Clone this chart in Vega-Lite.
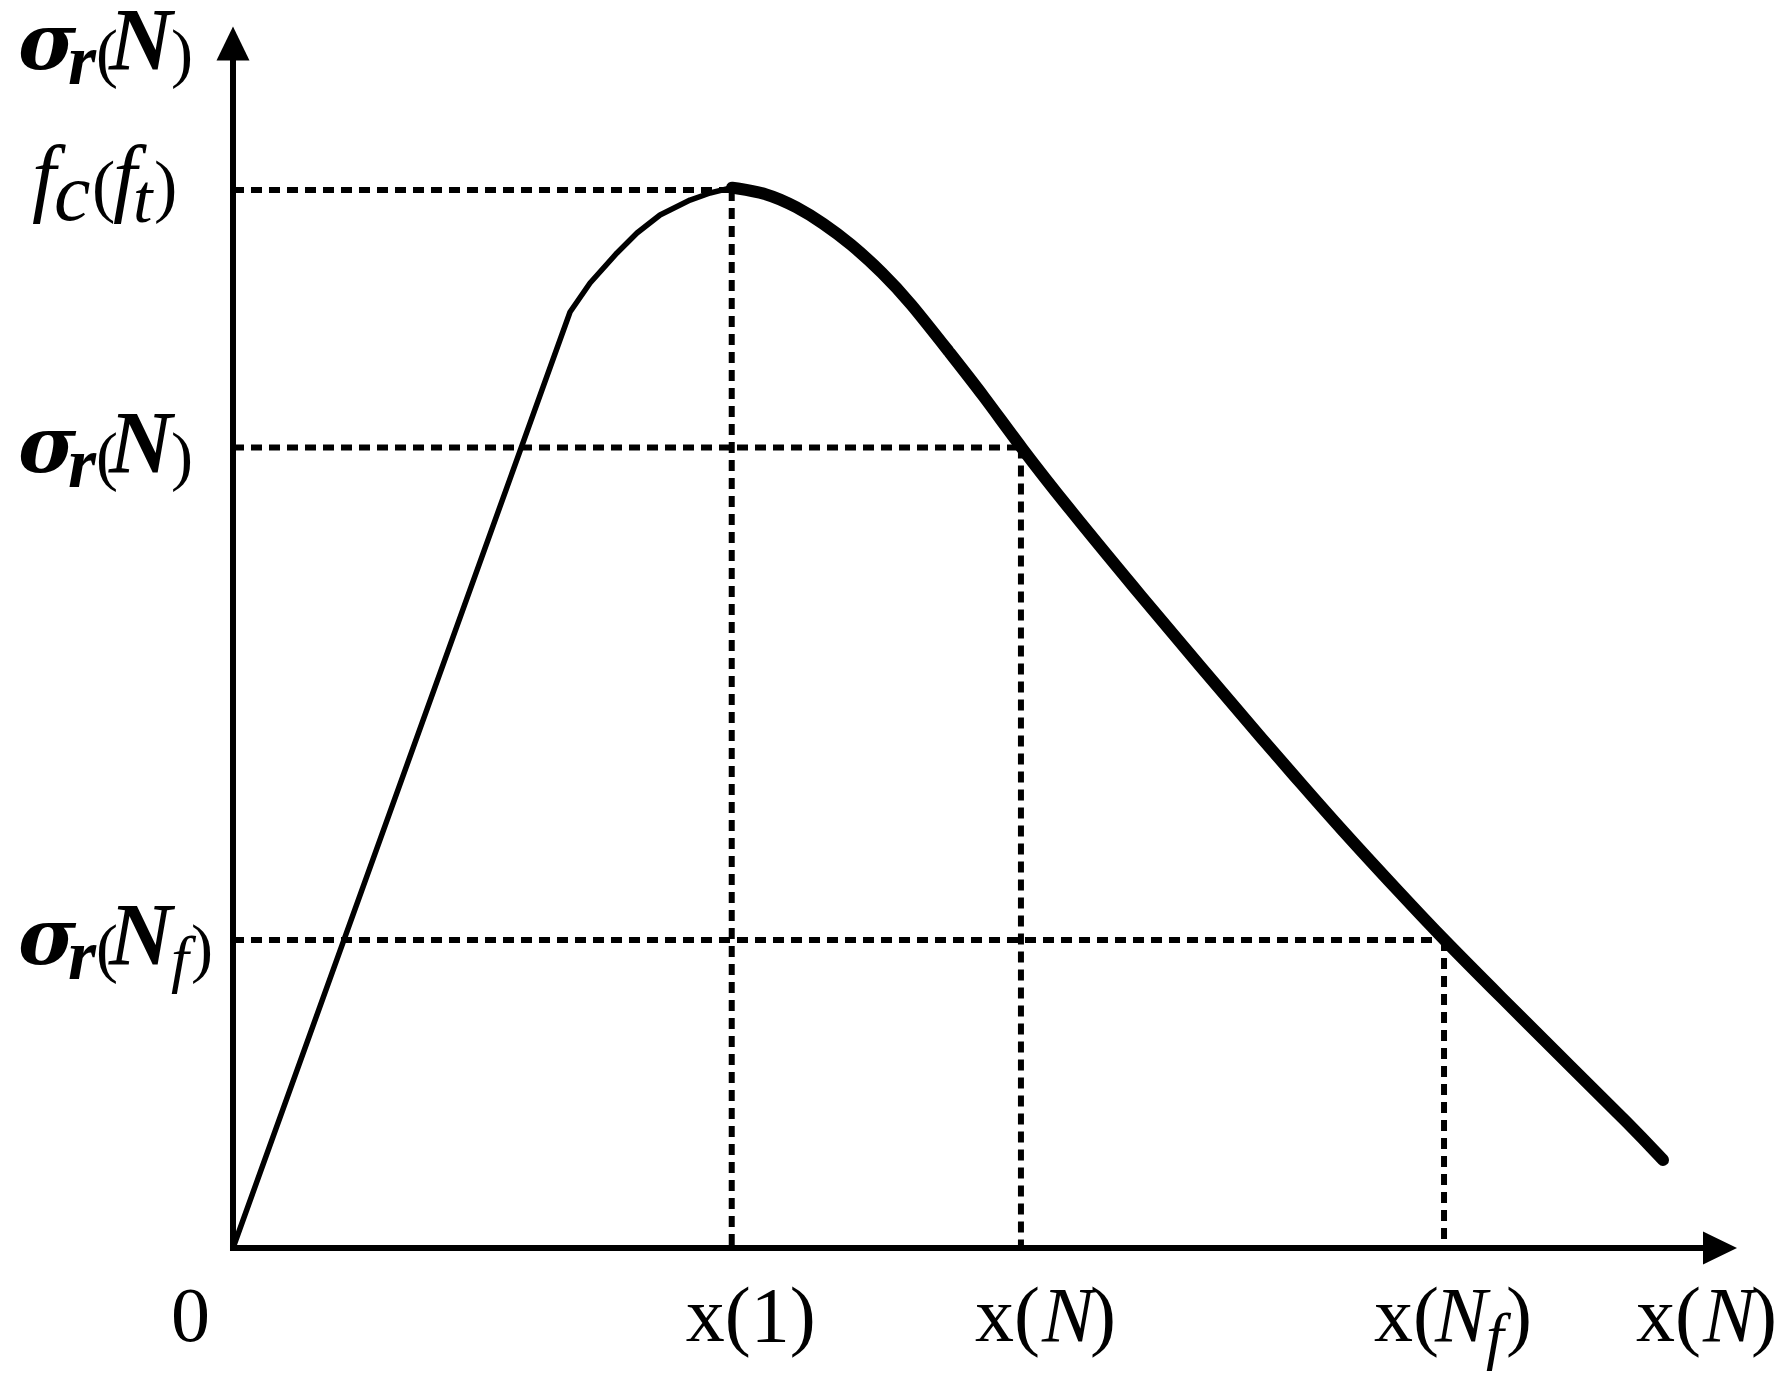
{
"$schema": "https://vega.github.io/schema/vega-lite/v6.json",
"width": 1782, "height": 1387, "padding": 0, "autosize": {"type": "none"},
"background": "white",
"config": {"view": {"stroke": null}, "text": {"font": "Liberation Serif", "color": "black"}},
"datasets": {
 "axes": [{"x": 0, "y": 0, "x2": 97.74, "y2": 0}, {"x": 0, "y": 0, "x2": 0, "y2": 97.7}],
 "arrow_x": [{"x": 98.87, "y": 0}],
 "arrow_y": [{"x": 0, "y": 99.05}],
 "guides": [
  {"x": 0, "x2": 33.16, "y": 87.0, "y2": 87.0},
  {"x": 33.16, "x2": 33.16, "y": 87.0, "y2": 0},
  {"x": 0, "x2": 52.39, "y": 65.83, "y2": 65.83},
  {"x": 52.39, "x2": 52.39, "y": 65.83, "y2": 0},
  {"x": 0, "x2": 80.52, "y": 25.33, "y2": 25.33},
  {"x": 80.52, "x2": 80.52, "y": 25.33, "y2": 0}
 ],
 "curve_thin": [
  {"x": 0, "y": 0}, {"x": 22.41, "y": 76.97}, {"x": 23.74, "y": 79.36}, {"x": 25.53, "y": 81.83},
  {"x": 26.86, "y": 83.47}, {"x": 28.39, "y": 84.95}, {"x": 30.39, "y": 86.18}, {"x": 31.72, "y": 86.76},
  {"x": 33.18, "y": 87.2}
 ],
 "curve_thick": [
  {"x": 33.18, "y": 87.2}, {"x": 35.51, "y": 86.76}, {"x": 37.5, "y": 85.61}, {"x": 39.23, "y": 84.29},
  {"x": 41.02, "y": 82.65}, {"x": 43.22, "y": 80.18}, {"x": 44.95, "y": 77.88}, {"x": 47.67, "y": 73.6},
  {"x": 49.87, "y": 70.15}, {"x": 52.39, "y": 65.83}, {"x": 55.45, "y": 61.0}, {"x": 59.84, "y": 54.4},
  {"x": 64.29, "y": 47.85}, {"x": 68.75, "y": 41.4}, {"x": 70.94, "y": 38.3}, {"x": 73.6, "y": 34.54},
  {"x": 77.59, "y": 29.19}, {"x": 80.52, "y": 25.33}, {"x": 84.24, "y": 20.72}, {"x": 88.7, "y": 15.21},
  {"x": 93.09, "y": 9.87}, {"x": 95.08, "y": 7.24}
 ],
 "ylabels": [
  {"v": 98.93, "kind": "s"}, {"v": 87.0, "kind": "fc"}, {"v": 65.83, "kind": "s"}, {"v": 25.33, "kind": "sf"}
 ],
 "xlabels": [
  {"v": 0, "kind": "zero"}, {"v": 33.16, "kind": "one"}, {"v": 52.39, "kind": "N"}, {"v": 80.52, "kind": "Nf"}, {"v": 96.34, "kind": "N"}
 ]
},
"layer": [
 {"data": {"name": "axes"}, "mark": {"type": "rule", "color": "black", "strokeWidth": 6, "strokeCap": "square"},
  "encoding": {"x": {"field": "x", "type": "quantitative", "scale": {"domain": [-15.492, 102.992], "nice": false, "zero": false}, "axis": null},
   "y": {"field": "y", "type": "quantitative", "scale": {"domain": [-11.431, 102.632], "nice": false, "zero": false}, "axis": null},
   "x2": {"field": "x2"}, "y2": {"field": "y2"}}},
 {"data": {"name": "guides"}, "mark": {"type": "rule", "color": "black", "strokeWidth": 6, "strokeDash": [11, 7], "strokeCap": "butt"},
  "encoding": {"x": {"field": "x", "type": "quantitative", "scale": {"domain": [-15.492, 102.992], "nice": false, "zero": false}, "axis": null},
   "y": {"field": "y", "type": "quantitative", "scale": {"domain": [-11.431, 102.632], "nice": false, "zero": false}, "axis": null},
   "x2": {"field": "x2"}, "y2": {"field": "y2"}}},
 {"data": {"name": "curve_thin"}, "mark": {"type": "line", "color": "black", "strokeWidth": 5.5, "strokeJoin": "round", "strokeCap": "round"},
  "encoding": {"x": {"field": "x", "type": "quantitative", "scale": {"domain": [-15.492, 102.992], "nice": false, "zero": false}, "axis": null},
   "y": {"field": "y", "type": "quantitative", "scale": {"domain": [-11.431, 102.632], "nice": false, "zero": false}, "axis": null}}},
 {"data": {"name": "curve_thick"}, "mark": {"type": "line", "color": "black", "strokeWidth": 12, "strokeJoin": "round", "strokeCap": "round", "interpolate": "basis"},
  "encoding": {"x": {"field": "x", "type": "quantitative", "scale": {"domain": [-15.492, 102.992], "nice": false, "zero": false}, "axis": null},
   "y": {"field": "y", "type": "quantitative", "scale": {"domain": [-11.431, 102.632], "nice": false, "zero": false}, "axis": null}}},
 {"data": {"name": "arrow_x"}, "mark": {"type": "point", "shape": "M -1 -0.97 L 1 0 L -1 0.97 Z", "size": 1156, "filled": true, "color": "black", "opacity": 1, "strokeWidth": 0},
  "encoding": {"x": {"field": "x", "type": "quantitative", "scale": {"domain": [-15.492, 102.992], "nice": false, "zero": false}, "axis": null},
   "y": {"field": "y", "type": "quantitative", "scale": {"domain": [-11.431, 102.632], "nice": false, "zero": false}, "axis": null}}},
 {"data": {"name": "arrow_y"}, "mark": {"type": "point", "shape": "M -0.97 1 L 0 -1 L 0.97 1 Z", "size": 1156, "filled": true, "color": "black", "opacity": 1, "strokeWidth": 0},
  "encoding": {"x": {"field": "x", "type": "quantitative", "scale": {"domain": [-15.492, 102.992], "nice": false, "zero": false}, "axis": null},
   "y": {"field": "y", "type": "quantitative", "scale": {"domain": [-11.431, 102.632], "nice": false, "zero": false}, "axis": null}}},

 {"data": {"name": "ylabels"}, "transform": [{"filter": "datum.kind !== 'fc'"}],
  "mark": {"type": "text", "text": "σ", "font": "DejaVu Serif", "fontSize": 79, "fontStyle": "italic", "fontWeight": "bold", "align": "left", "baseline": "alphabetic", "dx": 0, "dy": 24},
  "encoding": {"x": {"datum": -14.295, "type": "quantitative", "scale": {"domain": [-15.492, 102.992], "nice": false, "zero": false}, "axis": null},
   "y": {"field": "v", "type": "quantitative", "scale": {"domain": [-11.431, 102.632], "nice": false, "zero": false}, "axis": null}}},
 {"data": {"name": "ylabels"}, "transform": [{"filter": "datum.kind !== 'fc'"}],
  "mark": {"type": "text", "text": "r", "fontSize": 72, "fontStyle": "italic", "fontWeight": "bold", "align": "left", "baseline": "alphabetic", "dx": 50, "dy": 39},
  "encoding": {"x": {"datum": -14.295, "type": "quantitative", "scale": {"domain": [-15.492, 102.992], "nice": false, "zero": false}, "axis": null},
   "y": {"field": "v", "type": "quantitative", "scale": {"domain": [-11.431, 102.632], "nice": false, "zero": false}, "axis": null}}},
 {"data": {"name": "ylabels"}, "transform": [{"filter": "datum.kind !== 'fc'"}],
  "mark": {"type": "text", "text": "(", "fontSize": 66, "align": "left", "baseline": "alphabetic", "dx": 78, "dy": 30},
  "encoding": {"x": {"datum": -14.295, "type": "quantitative", "scale": {"domain": [-15.492, 102.992], "nice": false, "zero": false}, "axis": null},
   "y": {"field": "v", "type": "quantitative", "scale": {"domain": [-11.431, 102.632], "nice": false, "zero": false}, "axis": null}}},
 {"data": {"name": "ylabels"}, "transform": [{"filter": "datum.kind !== 'fc'"}],
  "mark": {"type": "text", "text": "N", "fontSize": 88, "fontStyle": "italic", "fontWeight": "bold", "align": "left", "baseline": "alphabetic", "dx": 91, "dy": 24},
  "encoding": {"x": {"datum": -14.295, "type": "quantitative", "scale": {"domain": [-15.492, 102.992], "nice": false, "zero": false}, "axis": null},
   "y": {"field": "v", "type": "quantitative", "scale": {"domain": [-11.431, 102.632], "nice": false, "zero": false}, "axis": null}}},
 {"data": {"name": "ylabels"}, "transform": [{"filter": "datum.kind === 's'"}],
  "mark": {"type": "text", "text": ")", "fontSize": 66, "align": "left", "baseline": "alphabetic", "dx": 153, "dy": 30},
  "encoding": {"x": {"datum": -14.295, "type": "quantitative", "scale": {"domain": [-15.492, 102.992], "nice": false, "zero": false}, "axis": null},
   "y": {"field": "v", "type": "quantitative", "scale": {"domain": [-11.431, 102.632], "nice": false, "zero": false}, "axis": null}}},
 {"data": {"name": "ylabels"}, "transform": [{"filter": "datum.kind === 'sf'"}],
  "mark": {"type": "text", "text": "f", "fontSize": 64, "fontStyle": "italic", "align": "left", "baseline": "alphabetic", "dx": 153, "dy": 40},
  "encoding": {"x": {"datum": -14.295, "type": "quantitative", "scale": {"domain": [-15.492, 102.992], "nice": false, "zero": false}, "axis": null},
   "y": {"field": "v", "type": "quantitative", "scale": {"domain": [-11.431, 102.632], "nice": false, "zero": false}, "axis": null}}},
 {"data": {"name": "ylabels"}, "transform": [{"filter": "datum.kind === 'sf'"}],
  "mark": {"type": "text", "text": ")", "fontSize": 66, "align": "left", "baseline": "alphabetic", "dx": 173, "dy": 30},
  "encoding": {"x": {"datum": -14.295, "type": "quantitative", "scale": {"domain": [-15.492, 102.992], "nice": false, "zero": false}, "axis": null},
   "y": {"field": "v", "type": "quantitative", "scale": {"domain": [-11.431, 102.632], "nice": false, "zero": false}, "axis": null}}},

 {"data": {"name": "ylabels"}, "transform": [{"filter": "datum.kind === 'fc'"}],
  "mark": {"type": "text", "text": "f", "fontSize": 86, "fontStyle": "italic", "align": "left", "baseline": "alphabetic", "dx": 14, "dy": 15},
  "encoding": {"x": {"datum": -14.295, "type": "quantitative", "scale": {"domain": [-15.492, 102.992], "nice": false, "zero": false}, "axis": null},
   "y": {"field": "v", "type": "quantitative", "scale": {"domain": [-11.431, 102.632], "nice": false, "zero": false}, "axis": null}}},
 {"data": {"name": "ylabels"}, "transform": [{"filter": "datum.kind === 'fc'"}],
  "mark": {"type": "text", "text": "c", "fontSize": 82, "fontStyle": "italic", "align": "left", "baseline": "alphabetic", "dx": 36, "dy": 30},
  "encoding": {"x": {"datum": -14.295, "type": "quantitative", "scale": {"domain": [-15.492, 102.992], "nice": false, "zero": false}, "axis": null},
   "y": {"field": "v", "type": "quantitative", "scale": {"domain": [-11.431, 102.632], "nice": false, "zero": false}, "axis": null}}},
 {"data": {"name": "ylabels"}, "transform": [{"filter": "datum.kind === 'fc'"}],
  "mark": {"type": "text", "text": "(", "fontSize": 70, "align": "left", "baseline": "alphabetic", "dx": 74, "dy": 19},
  "encoding": {"x": {"datum": -14.295, "type": "quantitative", "scale": {"domain": [-15.492, 102.992], "nice": false, "zero": false}, "axis": null},
   "y": {"field": "v", "type": "quantitative", "scale": {"domain": [-11.431, 102.632], "nice": false, "zero": false}, "axis": null}}},
 {"data": {"name": "ylabels"}, "transform": [{"filter": "datum.kind === 'fc'"}],
  "mark": {"type": "text", "text": "f", "fontSize": 86, "fontStyle": "italic", "align": "left", "baseline": "alphabetic", "dx": 95, "dy": 15},
  "encoding": {"x": {"datum": -14.295, "type": "quantitative", "scale": {"domain": [-15.492, 102.992], "nice": false, "zero": false}, "axis": null},
   "y": {"field": "v", "type": "quantitative", "scale": {"domain": [-11.431, 102.632], "nice": false, "zero": false}, "axis": null}}},
 {"data": {"name": "ylabels"}, "transform": [{"filter": "datum.kind === 'fc'"}],
  "mark": {"type": "text", "text": "t", "fontSize": 70, "fontStyle": "italic", "align": "left", "baseline": "alphabetic", "dx": 115, "dy": 32},
  "encoding": {"x": {"datum": -14.295, "type": "quantitative", "scale": {"domain": [-15.492, 102.992], "nice": false, "zero": false}, "axis": null},
   "y": {"field": "v", "type": "quantitative", "scale": {"domain": [-11.431, 102.632], "nice": false, "zero": false}, "axis": null}}},
 {"data": {"name": "ylabels"}, "transform": [{"filter": "datum.kind === 'fc'"}],
  "mark": {"type": "text", "text": ")", "fontSize": 70, "align": "left", "baseline": "alphabetic", "dx": 136, "dy": 19},
  "encoding": {"x": {"datum": -14.295, "type": "quantitative", "scale": {"domain": [-15.492, 102.992], "nice": false, "zero": false}, "axis": null},
   "y": {"field": "v", "type": "quantitative", "scale": {"domain": [-11.431, 102.632], "nice": false, "zero": false}, "axis": null}}},

 {"data": {"name": "xlabels"}, "transform": [{"filter": "datum.kind === 'zero'"}],
  "mark": {"type": "text", "text": "0", "fontSize": 78, "align": "left", "baseline": "alphabetic", "dx": -62, "dy": 93},
  "encoding": {"x": {"field": "v", "type": "quantitative", "scale": {"domain": [-15.492, 102.992], "nice": false, "zero": false}, "axis": null},
   "y": {"datum": 0, "type": "quantitative", "scale": {"domain": [-11.431, 102.632], "nice": false, "zero": false}, "axis": null}}},
 {"data": {"name": "xlabels"}, "transform": [{"filter": "datum.kind === 'one'"}],
  "mark": {"type": "text", "text": "x(1)", "fontSize": 78, "align": "left", "baseline": "alphabetic", "dx": -46, "dy": 93},
  "encoding": {"x": {"field": "v", "type": "quantitative", "scale": {"domain": [-15.492, 102.992], "nice": false, "zero": false}, "axis": null},
   "y": {"datum": 0, "type": "quantitative", "scale": {"domain": [-11.431, 102.632], "nice": false, "zero": false}, "axis": null}}},
 {"data": {"name": "xlabels"}, "transform": [{"filter": "datum.kind === 'N'"}],
  "mark": {"type": "text", "text": "x(", "fontSize": 78, "align": "left", "baseline": "alphabetic", "dx": -46, "dy": 93},
  "encoding": {"x": {"field": "v", "type": "quantitative", "scale": {"domain": [-15.492, 102.992], "nice": false, "zero": false}, "axis": null},
   "y": {"datum": 0, "type": "quantitative", "scale": {"domain": [-11.431, 102.632], "nice": false, "zero": false}, "axis": null}}},
 {"data": {"name": "xlabels"}, "transform": [{"filter": "datum.kind === 'N'"}],
  "mark": {"type": "text", "text": "N", "fontSize": 78, "fontStyle": "italic", "align": "left", "baseline": "alphabetic", "dx": 21, "dy": 93},
  "encoding": {"x": {"field": "v", "type": "quantitative", "scale": {"domain": [-15.492, 102.992], "nice": false, "zero": false}, "axis": null},
   "y": {"datum": 0, "type": "quantitative", "scale": {"domain": [-11.431, 102.632], "nice": false, "zero": false}, "axis": null}}},
 {"data": {"name": "xlabels"}, "transform": [{"filter": "datum.kind === 'N'"}],
  "mark": {"type": "text", "text": ")", "fontSize": 78, "align": "left", "baseline": "alphabetic", "dx": 69, "dy": 93},
  "encoding": {"x": {"field": "v", "type": "quantitative", "scale": {"domain": [-15.492, 102.992], "nice": false, "zero": false}, "axis": null},
   "y": {"datum": 0, "type": "quantitative", "scale": {"domain": [-11.431, 102.632], "nice": false, "zero": false}, "axis": null}}},
 {"data": {"name": "xlabels"}, "transform": [{"filter": "datum.kind === 'Nf'"}],
  "mark": {"type": "text", "text": "x(", "fontSize": 78, "align": "left", "baseline": "alphabetic", "dx": -70, "dy": 93},
  "encoding": {"x": {"field": "v", "type": "quantitative", "scale": {"domain": [-15.492, 102.992], "nice": false, "zero": false}, "axis": null},
   "y": {"datum": 0, "type": "quantitative", "scale": {"domain": [-11.431, 102.632], "nice": false, "zero": false}, "axis": null}}},
 {"data": {"name": "xlabels"}, "transform": [{"filter": "datum.kind === 'Nf'"}],
  "mark": {"type": "text", "text": "N", "fontSize": 78, "fontStyle": "italic", "align": "left", "baseline": "alphabetic", "dx": -9, "dy": 93},
  "encoding": {"x": {"field": "v", "type": "quantitative", "scale": {"domain": [-15.492, 102.992], "nice": false, "zero": false}, "axis": null},
   "y": {"datum": 0, "type": "quantitative", "scale": {"domain": [-11.431, 102.632], "nice": false, "zero": false}, "axis": null}}},
 {"data": {"name": "xlabels"}, "transform": [{"filter": "datum.kind === 'Nf'"}],
  "mark": {"type": "text", "text": "f", "fontSize": 64, "fontStyle": "italic", "align": "left", "baseline": "alphabetic", "dx": 42, "dy": 109},
  "encoding": {"x": {"field": "v", "type": "quantitative", "scale": {"domain": [-15.492, 102.992], "nice": false, "zero": false}, "axis": null},
   "y": {"datum": 0, "type": "quantitative", "scale": {"domain": [-11.431, 102.632], "nice": false, "zero": false}, "axis": null}}},
 {"data": {"name": "xlabels"}, "transform": [{"filter": "datum.kind === 'Nf'"}],
  "mark": {"type": "text", "text": ")", "fontSize": 78, "align": "left", "baseline": "alphabetic", "dx": 62, "dy": 93},
  "encoding": {"x": {"field": "v", "type": "quantitative", "scale": {"domain": [-15.492, 102.992], "nice": false, "zero": false}, "axis": null},
   "y": {"datum": 0, "type": "quantitative", "scale": {"domain": [-11.431, 102.632], "nice": false, "zero": false}, "axis": null}}}
]
}
